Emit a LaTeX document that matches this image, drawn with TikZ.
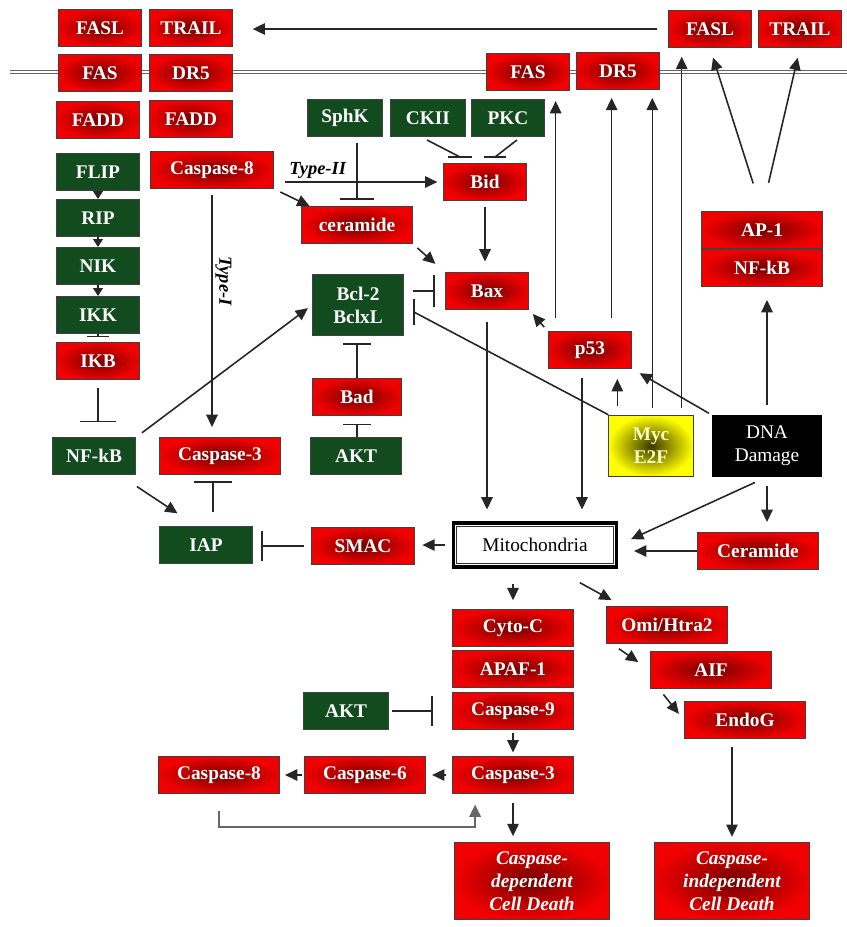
\documentclass[tikz,border=0pt]{standalone}
\usepackage{fontspec}
\setmainfont{Liberation Serif}
\usepackage{tikz}
\usetikzlibrary{arrows.meta}
\usetikzlibrary{calc}

\definecolor{boxred}{RGB}{240,0,0}
\definecolor{darkred}{RGB}{115,0,0}
\definecolor{boxgreen}{RGB}{18,76,30}
\definecolor{mycdark}{RGB}{60,55,0}
\definecolor{myctext}{RGB}{255,255,190}

\begin{document}
\begin{tikzpicture}[x=0.02cm, y=-0.02cm,
	cellbox/.style={rectangle, draw=black!75, line width=0.6pt, inner sep=0pt,
		minimum height=21pt, text=white, font=\fontsize{11}{13}\selectfont\bfseries},
	redbox/.style={cellbox, inner color=darkred, outer color=boxred, minimum width=#1},
	redbox/.default=47.6pt,
	greenbox/.style={cellbox, fill=boxgreen, minimum width=#1},
	greenbox/.default=47.6pt,
	link/.style={line width=0.9pt, draw=black!85},
	act/.style={link, -{Triangle[length=7pt,width=6.5pt]}},
	smallact/.style={link, -{Triangle[length=4.5pt,width=5.5pt]}},
	inh/.style={link, -{Bar[width=#1]}},
	inh/.default=18pt,
	typelabel/.style={text=black, inner sep=1.5pt, font=\fontsize{10.5}{12}\selectfont\bfseries\itshape}]
	
	\path[fill=white, use as bounding box] (0,0) rectangle (847,927);
	
	% membrane
	\draw[black!60, line width=0.7pt, double distance=1.4pt] (10,72) -- (847,72);
	
	% ligands and receptors, left
	\node[redbox] (fasl1) at (100,28) {FASL};
	\node[redbox] (trail1) at (191,28) {TRAIL};
	\node[redbox] (fas1) at (100,73) {FAS};
	\node[redbox] (dr51) at (191,73) {DR5};
	\node[redbox] (fadd1) at (98,120) {FADD};
	\node[redbox] (fadd2) at (191,119) {FADD};
	
	% NF-kB branch
	\node[greenbox] (flip) at (98,172) {FLIP};
	\node[greenbox] (rip) at (98,218) {RIP};
	\node[greenbox] (nik) at (98,266) {NIK};
	\node[greenbox] (ikk) at (98,315) {IKK};
	\node[redbox] (ikb) at (98,361) {IKB};
	\node[greenbox] (nfkb1) at (94,456) {NF-kB};
	\node[greenbox=53pt] (iap) at (206,545) {IAP};
	
	% caspase-8 branch
	\node[redbox=70pt] (casp8a) at (212,170) {Caspase-8};
	\node[redbox=68.6pt] (casp3a) at (220,456) {Caspase-3};
	\node[greenbox=43pt] (sphk) at (345,118) {SphK};
	\node[greenbox=42.5pt] (ckii) at (428,118) {CKII};
	\node[greenbox=42pt] (pkc) at (508,118) {PKC};
	\node[redbox] (bid) at (485,182) {Bid};
	\node[redbox=63pt] (cer1) at (357,225) {ceramide};
	\node[redbox] (bax) at (487,291) {Bax};
	\node[greenbox=51.6pt, minimum height=34.6pt, align=center] (bcl) at (358,305) {Bcl-2\\BclxL};
	\node[redbox=51pt] (bad) at (357,397) {Bad};
	\node[greenbox=51.6pt] (akt1) at (356,456) {AKT};
	\node[redbox=59pt] (smac) at (363,546) {SMAC};
	
	% mitochondria
	\node[cellbox, draw=black, line width=1.8pt, fill=white, text=black, font=\fontsize{11}{13}\selectfont,
		minimum width=93pt, minimum height=25pt] (mito) at (535,545) {Mitochondria};
	\draw[black!80, line width=0.6pt] ($(mito.north west)+(5,5)$) rectangle ($(mito.south east)+(-5,-5)$);
	
	% right side
	\node[redbox] (fas2) at (528,72) {FAS};
	\node[redbox] (dr52) at (618,71) {DR5};
	\node[redbox] (fasl2) at (710,29) {FASL};
	\node[redbox] (trail2) at (800,29) {TRAIL};
	\node[redbox=68.6pt] (ap1) at (762,230) {AP-1};
	\node[redbox=68.6pt] (nfkb2) at (762,268) {NF-kB};
	\node[redbox] (p53) at (590,350) {p53};
	\node[cellbox, inner color=mycdark, outer color=yellow, text=myctext, minimum width=48pt,
		minimum height=35pt, align=center] (myc) at (651,446) {Myc\\E2F};
	\node[cellbox, fill=black, draw=black, font=\fontsize{11}{13}\selectfont, minimum width=62pt,
		minimum height=34.6pt, align=center] (dna) at (767,446) {DNA\\Damage};
	\node[redbox=68.6pt] (cer2) at (758,551) {Ceramide};
	
	% caspase cascade
	\node[redbox=69pt] (cyto) at (513,628) {Cyto-C};
	\node[redbox=69pt] (apaf) at (513,669) {APAF-1};
	\node[redbox=69pt] (casp9) at (513,711) {Caspase-9};
	\node[redbox=69pt] (casp3b) at (513,775) {Caspase-3};
	\node[greenbox=48pt] (akt2) at (346,711) {AKT};
	\node[redbox=69pt] (casp6) at (365,775) {Caspase-6};
	\node[redbox=69pt] (casp8b) at (219,775) {Caspase-8};
	\node[redbox=88pt, minimum height=43.7pt, align=center, font=\fontsize{11}{13}\selectfont\bfseries\itshape]
		(dep) at (532,881) {Caspase-\\dependent\\Cell Death};
	
	% caspase-independent
	\node[redbox=69pt] (omi) at (667,625) {Omi/Htra2};
	\node[redbox=69pt] (aif) at (711,670) {AIF};
	\node[redbox=69pt] (endog) at (745,720) {EndoG};
	\node[redbox=88pt, minimum height=43.7pt, align=center, font=\fontsize{11}{13}\selectfont\bfseries\itshape]
		(indep) at (732,881) {Caspase-\\independent\\Cell Death};
	
	% ligand export
	\draw[act, shorten <=6pt, shorten >=11pt] (fasl2.west) -- (fasl2.west -| trail1.east);
	\draw[act, shorten <=16.5pt, shorten >=5.7pt] (ap1.north) -- (fasl2.south);
	\draw[act, shorten <=16.5pt, shorten >=5.7pt] (ap1.north) -- (trail2.south);
	
	% FLIP to IKB
	\draw[smallact] (flip.south) -- (rip.north);
	\draw[smallact] (rip.south) -- (nik.north);
	\draw[smallact] (nik.south) -- (ikk.north);
	\draw[inh=12pt, shorten >=2.8pt] (ikk.south) -- (ikb.north);
	\draw[inh=20pt, shorten <=4.5pt, shorten >=8.5pt] (ikb.south) -- (ikb.south |- nfkb1.north);
	\draw[act, shorten <=4pt, shorten >=3pt] (nfkb1.north east) -- (bcl.west);
	\draw[act, shorten <=12pt, shorten >=13pt] ($(nfkb1.south)!.6!(nfkb1.south east)$) -- ($(iap.north west)!.8!(iap.north)$);
	\draw[inh=21.5pt, shorten <=8pt, shorten >=3.4pt] ($(iap.north)+(7,0)$) coordinate (i1) -- (i1 |- casp3a.south);
	\draw[inh=17.6pt, shorten <=4pt, shorten >=4.5pt] (smac.west) -- (smac.west -| iap.east);
	
	% type I and type II
	\draw[act, shorten <=3.4pt, shorten >=5.7pt] (casp8a.south) -- (casp8a.south |- casp3a.north)
		node[typelabel, pos=0.37, anchor=south, rotate=-90] {Type-I};
	\draw[act, shorten <=6pt, shorten >=3pt] (casp8a.east |- bid.west) -- (bid.west)
		node[typelabel, pos=0.07, anchor=south west] {Type-II};
	\draw[act, shorten <=4pt] (casp8a.south east) -- ($(cer1.north west)!.15!(cer1.north)$);
	\draw[inh=19pt, shorten <=3.4pt, shorten >=3.4pt] (sphk.south -| cer1.north) -- (cer1.north);
	\draw[link] ($(ckii.south)+(-1,3)$) -- ($(bid.north)+(-25,-6)$) coordinate (c1);
	\draw[link] ([xshift=-6.8pt]c1) -- ([xshift=6.8pt]c1);
	\draw[link] ($(pkc.south)+(9,3)$) -- ($(bid.north)+(10,-6)$) coordinate (c2);
	\draw[link] ([xshift=-6.2pt]c2) -- ([xshift=6.2pt]c2);
	\draw[act, shorten <=3.4pt, shorten >=6pt] (bid.south) -- (bid.south |- bax.north);
	\draw[act, shorten <=3.4pt, shorten >=7pt] (cer1.south east) -- (bax.north west);
	\draw[inh=18pt, shorten <=5pt, shorten >=5.7pt] (bcl.east |- bax.west) -- (bax.west);
	\draw[inh=16pt, shorten >=4pt] (bad.north) -- (bad.north |- bcl.south);
	\draw[inh=16pt, shorten >=4.5pt] (bad.south |- akt1.north) -- (bad.south);
	
	% p53, Myc and DNA damage
	\draw[act, shorten <=7.4pt, shorten >=5.7pt] ($(p53.north west)+(8,0)$) coordinate (u1) -- (u1 |- fas2.south);
	\draw[act, shorten <=7.4pt, shorten >=4.5pt] ($(p53.north west)+(64,0)$) coordinate (u2) -- (u2 |- dr52.south);
	\draw[act, shorten <=4pt, shorten >=4.5pt] ($(myc.north west)+(44,0)$) coordinate (u3) -- (u3 |- dr52.south);
	\draw[act, shorten <=4pt, shorten >=5pt] ($(myc.north east)+(-12,0)$) coordinate (u4) -- (u4 |- fasl2.south);
	\draw[act, shorten <=5pt, shorten >=5.7pt] ($(myc.north west)+(9,0)$) coordinate (u5) -- (u5 |- p53.south);
	\draw[link] (myc.north west) -- ($(bcl.east)+(10,7)$) coordinate (m1);
	\draw[link] ([yshift=7.5pt]m1) -- ([yshift=-7.5pt]m1);
	\draw[act, shorten <=2pt, shorten >=4.8pt] (dna.north west) -- (p53.south east);
	\draw[act, shorten <=3pt, shorten >=3pt] (p53.north west) -- (bax.south east);
	\draw[act, shorten <=5.7pt, shorten >=7.4pt] (dna.north) -- (dna.north |- nfkb2.south);
	\draw[act, shorten <=7.6pt, shorten >=8pt] (dna.south) -- (mito.east);
	\draw[act, shorten <=5pt, shorten >=5.7pt] (dna.south) -- (dna.south |- cer2.north);
	\draw[act, shorten >=9pt] (cer2.west) -- (cer2.west -| mito.east);
	
	% into and out of mitochondria
	\draw[act, shorten <=6.8pt, shorten >=6.8pt] (bax.south) -- (bax.south |- mito.north);
	\draw[act, shorten <=5pt, shorten >=6.8pt] ($(p53.south)+(-8,0)$) coordinate (p3) -- (p3 |- mito.north);
	\draw[act, shorten <=4pt, shorten >=4pt] (mito.west) -- (mito.west -| smac.east);
	\draw[act, shorten <=9pt, shorten >=5pt] (mito.south -| cyto.north) -- (cyto.north);
	\draw[act, shorten <=16.7pt, shorten >=7pt] ($(mito.south)!.23!(mito.south east)$) -- ($(omi.north west)!.27!(omi.north)$);
	
	% caspase-dependent death
	\draw[inh=17pt, shorten <=2pt, shorten >=10.8pt] (akt2.east) -- (akt2.east -| casp9.west);
	\draw[act, shorten <=2pt, shorten >=2pt] (casp9.south) -- (casp3b.north);
	\draw[act, shorten <=3.4pt, shorten >=3.4pt] (casp3b.west) -- (casp6.east);
	\draw[act, shorten <=1pt, shorten >=2.8pt] (casp6.west) -- (casp8b.east);
	\draw[act, draw=black!60, shorten <=9.6pt, shorten >=6pt] (casp8b.south) -- ++(0,33) -| ($(casp3b.south west)!.38!(casp3b.south)$);
	\draw[act, shorten <=5pt, shorten >=3.4pt] (casp3b.south) -- (casp3b.south |- dep.north);
	
	% caspase-independent death
	\draw[act, shorten <=4.8pt, shorten >=8pt] ($(omi.south west)!.1!(omi.south)$) -- (aif.west);
	\draw[act, shorten <=4pt, shorten >=4.5pt] ($(aif.south west)!.15!(aif.south)$) -- (endog.west);
	\draw[act, shorten <=4.5pt, shorten >=3pt] (indep.north |- endog.south) -- (indep.north);
	
\end{tikzpicture}
\end{document}
